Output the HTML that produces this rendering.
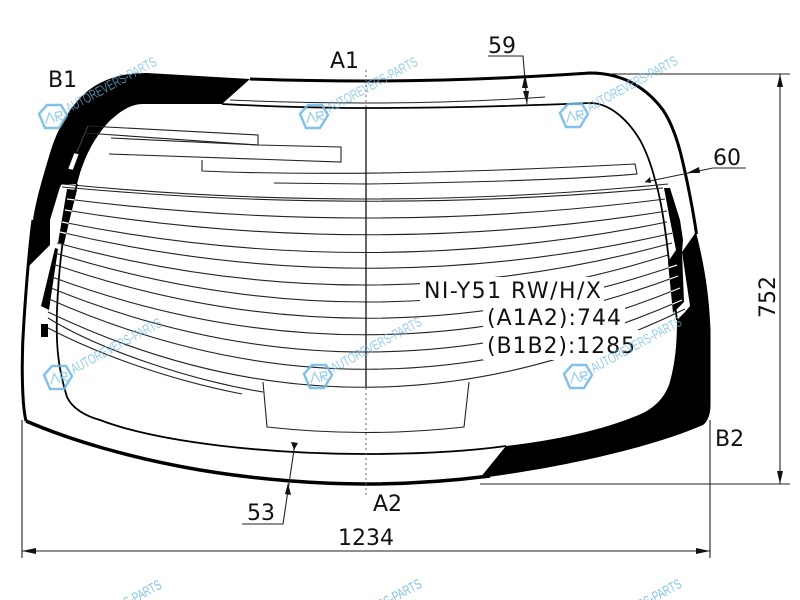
<!DOCTYPE html>
<html><head><meta charset="utf-8"><style>html,body{margin:0;padding:0;background:#fff;width:800px;height:600px;overflow:hidden}svg{display:block}text{font-family:"DejaVu Sans","Liberation Sans",sans-serif;font-size:22px;fill:#111}.w{font-family:"Liberation Sans",sans-serif;font-size:14px;fill:#6db8e2}</style></head><body>
<svg width="800" height="600" viewBox="0 0 800 600" xmlns="http://www.w3.org/2000/svg">
<defs>
<g id="wmt" opacity=".85"><text class="w" transform="translate(16,-4) rotate(-28.5)" textLength="101" lengthAdjust="spacingAndGlyphs">AUTOREVERS-PARTS</text></g>
<g id="wm" opacity=".85"><path d="M-14,-3 L-6,-12 L8,-12 L14,-2 L6,11 L-8,11 Z" fill="none" stroke="#6db8e2" stroke-width="2.5"/><path d="M-8,5 L-3,-5 L1,5 M3,5 L3,-4 L9,-4 L9,0 L3,0 L9,5" fill="none" stroke="#8cc8e8" stroke-width="1.3" transform="rotate(-10)"/><use href="#wmt"/></g>
<g id="heat" fill="none">
<path d="M62,184 Q366,214 668,184"/><path d="M62,187 Q366,215 663,188"/>
<path d="M67,199 Q366,237 665,199"/><path d="M65,210 Q366,259 667,211"/>
<path d="M62,222 Q366,283 667,222"/><path d="M60,232 Q366,304 673,233"/>
<path d="M57,243 Q366,327 672,243"/><path d="M55,253 Q366,350 668,255"/>
<path d="M53,264 Q366,372 677,265"/><path d="M52,277 Q366,393 678,276"/>
<path d="M51,288 Q366,416 680,288"/><path d="M49,299 Q366,439 682,300"/>
<path d="M48,312 Q366,464 685,309"/>
</g>
<clipPath id="dashes"><path d="M67,189 L77,190 L69,222 L64,244 L58,243 Z M664,188 L670,188 L680,220 L683,240 L682,252 L684,302 L673,313 L668,262 L676,250 L670,220 Z"/></clipPath>
</defs>
<!-- black zones -->
<path d="M250,79 L147,73 C125,73 112,77 100,83 C78,94 60,120 50,153 C42,180 36,200 33,220 L28,267 L50,245 L50,220 L60,187 L62,184 L77,184 L80,173 C85,158 90,147 97,137 C103,128 108,122 113,118 C122,110 132,104 143,104 L222,104 Z" fill="#000"/>
<path d="M696,232 C703,260 709,290 710.5,330 L710.5,405 C710.5,414 708,421 703,425 C650,448 560,468 480,478 L506,446 C560,440 610,428 643,413 C655,407 664,398 669,385 C675,365 677,345 677,320 L685,312 L690,306 L682,252 Z" fill="#000"/>
<path d="M55,248 L58,249 L49,310 L41,306 Z" fill="#000"/>
<rect x="41" y="324" width="7" height="13" fill="#000"/>
<path d="M67,189 L77,190 L69,222 L64,244 L58,243 Z" fill="#000"/>
<path d="M664,188 L670,188 L680,220 L683,240 L682,252 L684,302 L673,313 L668,262 L676,250 L670,220 Z" fill="#000"/>
<path d="M74,153 L79,154 L73,170 L68,169 Z" fill="#fff" stroke="#111" stroke-width=".6"/>
<path d="M88,126 L77,152" stroke="#444" stroke-width="1" fill="none"/>
<!-- outlines -->
<path d="M26,421 C22,405 21,360 24,320 C26,290 29,250 33,220 M250,79 Q310,81 366,81 Q470,81 590,73 C625,73 648,90 663,110 C673,125 679,145 683,163 C688,185 693,210 696.5,234" fill="none" stroke="#000" stroke-width="3"/>
<path d="M26,421 C70,440 130,458 200,470 C260,480 320,484 366,484 C410,484 450,481 490,476" fill="none" stroke="#000" stroke-width="3.5"/>
<path d="M222,104 Q300,108 366,108 Q470,108 590,103 C610,103 628,120 640,140 C650,158 655,180 655,180 C660,195 665,225 668,253 L677,320 M77,184 L63,240 C60,262 58,285 57,310 C56,340 57,365 67,397 C72,408 85,416 100,420 C160,443 270,454 366,454 C420,454 470,451 506,446" fill="none" stroke="#000" stroke-width="1.8"/>
<path d="M230,100 Q300,103 366,103 Q460,103 545,97" fill="none" stroke="#222" stroke-width="1"/>
<!-- heater lines -->
<use href="#heat" stroke="#222" stroke-width="1.1"/>
<g clip-path="url(#dashes)"><use href="#heat" stroke="#fff" stroke-width="1.2"/></g>
<g fill="none" stroke="#222" stroke-width="1.1">
<path d="M48,318 C100,350 190,380 263,392"/><path d="M48,328 C100,355 170,380 242,394"/>
<path d="M263,382 L267,427 Q366,438 464,427 L469,382"/>
<path d="M88,126 L258,135 L258,145 L85,133"/>
<path d="M111,138 L258,145 L341,147 L341,162 L109,154"/>
<path d="M202,160 L202,171 Q366,178 635,164 L637,174 Q560,181 366,184 L274,183"/>
</g>
<path d="M366,108 V387" stroke="#111" stroke-width="1.3"/>
<path d="M366,70 V108 M366,388 V496" stroke="#666" stroke-width="1" stroke-dasharray="2 3"/>
<!-- text backdrop -->
<rect x="420" y="277" width="184" height="25" fill="#fff"/><rect x="483" y="302" width="142" height="28" fill="#fff"/><rect x="483" y="330" width="156" height="30" fill="#fff"/>
<!-- dimensions -->
<g fill="none" stroke="#222" stroke-width="1.1">
<path d="M22,420 V558 M710,420 V558 M22,551 H710"/>
<path d="M610,74 H790 M480,484 H790 M780,74 V484"/>
<path d="M488,56 H523 L527,104"/>
<path d="M746,168 H713 L645,182"/>
<path d="M242,524 H283 L295,443"/>
</g>
<g fill="#111">
<path d="M22,551 L36,548 V554 Z M710,551 L696,548 V554 Z M780,74 L777,87 H783 Z M780,484 L777,471 H783 Z"/>
<path d="M525,74 L522,88 H528 Z M527,104 L523,91 H529 Z"/>
<path d="M687,173 L699,167 L700,173 Z M645,182 L650,177 L651,183 Z"/>
<path d="M288,483 L285,494 L291,495 Z M291,442 L298,443 L294,450 Z"/>
</g>
<!-- labels -->
<text x="48" y="87">B1</text><text x="330" y="68">A1</text><text x="488" y="53">59</text><text x="713" y="165">60</text>
<text x="715" y="446">B2</text><text x="373" y="511">A2</text><text x="247" y="520">53</text><text x="338" y="545">1234</text>
<text transform="translate(775,318) rotate(-90)">752</text>
<text x="424" y="298" textLength="177" lengthAdjust="spacing">NI-Y51 RW/H/X</text><text x="487" y="325" textLength="134" lengthAdjust="spacing">(A1A2):744</text><text x="487" y="353" textLength="148" lengthAdjust="spacing">(B1B2):1285</text>
<!-- watermarks -->
<use href="#wm" x="53" y="117"/><use href="#wm" x="314" y="117"/><use href="#wm" x="574" y="116"/>
<use href="#wm" x="58" y="378"/><use href="#wm" x="318" y="377"/><use href="#wm" x="578" y="377"/>
<use href="#wmt" x="58" y="640"/><use href="#wmt" x="318" y="639"/><use href="#wmt" x="578" y="639"/>
</svg>
</body></html>
